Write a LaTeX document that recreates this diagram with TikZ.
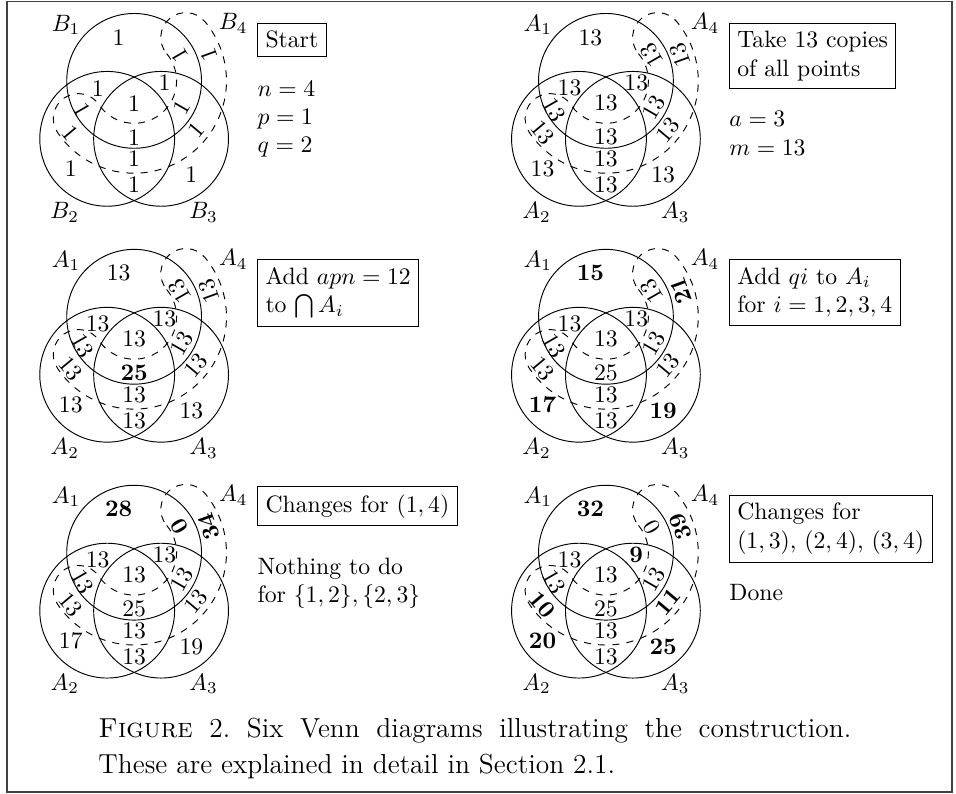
\documentclass[tikz,border=0pt]{standalone}

%% three circles and the dashed band of the fourth set
\newcommand{\vennbase}[2]{%
  \draw (0,0) circle (1);
  \draw (-0.4,-0.86) circle (1);
  \draw (0.4,-0.86) circle (1);
  \draw[dashed] (40:0.63) arc[start angle=40, end angle=-146, radius=0.63]
    arc[start angle=34, end angle=214, radius=0.37]
    arc[start angle=-146, end angle=40, radius=1.37]
    arc[start angle=40, end angle=220, radius=0.37] -- cycle;
  \node[setlab] (#1-s1) at (-1.01,0.83) {$#2_1$};
  \node[setlab] (#1-s4) at (1.47,0.85) {$#2_4$};
  \node[setlab] (#1-s2) at (-1.03,-1.95) {$#2_2$};
  \node[setlab] (#1-s3) at (1.03,-1.95) {$#2_3$};
}

%% the 15 region counts, in a fixed order of regions
\newcommand{\vennnums}[2]{%
  \foreach \val [count=\k from 0] in {#2}{%
    \pgfmathsetmacro{\nx}{{-0.23,0.68,1.11,-0.54,0.45,0,0,0,0,-0.94,0.85,-0.765,-0.94,0.71,0.92}[\k]}%
    \pgfmathsetmacro{\ny}{{0.645,0.385,0.385,-0.11,-0.03,-0.33,-0.835,-1.155,-1.545,-1.306,-1.395,-0.43,-0.77,-0.40,-0.73}[\k]}%
    \pgfmathsetmacro{\nr}{{0,120,110,0,0,0,0,0,0,0,0,-60,-50,60,50}[\k]}%
    \node[num, rotate=\nr] (#1-r\k) at (\nx,\ny) {\val};
  }%
}

\begin{document}
\begin{tikzpicture}[
    setlab/.style={inner sep=1pt},
    num/.style={inner sep=1pt},
    notebox/.style={draw, align=left, anchor=north west},
    info/.style={align=left, anchor=base west, inner sep=0pt}]
  \useasboundingbox (0,0) rectangle (14.184,-11.780);
  \draw[black!75, line width=0.6pt] (0.104,-0.02) rectangle (14.125,-11.75);

  %% --- 1: start ---
  \begin{scope}[shift={(1.99,-1.20)}]
    \vennbase{d1}{B}
    \vennnums{d1}{1,1,1,1,1,1,1,1,1,1,1,1,1,1,1}
    \node[notebox] (d1-box) at (1.825,0.86) {Start};
    %% base = last line
    \node[info] (d1-txt) at (1.825,-1.068) {$n=4$\\$p=1$\\$q=2$};
  \end{scope}

  %% --- 2: 13 copies ---
  \begin{scope}[shift={(8.99,-1.20)}]
    \vennbase{d2}{A}
    \vennnums{d2}{13,13,13,13,13,13,13,13,13,13,13,13,13,13,13}
    \node[notebox] (d2-box) at (1.825,0.86) {Take 13 copies\\of all points};
    \node[info] (d2-txt) at (1.825,-1.10) {$a=3$\\$m=13$};
  \end{scope}

  %% --- 3: add apn to the intersection ---
  \begin{scope}[shift={(1.99,-4.70)}]
    \vennbase{d3}{A}
    \vennnums{d3}{13,13,13,13,13,13,\textbf{25},13,13,13,13,13,13,13,13}
    \node[notebox] (d3-box) at (1.825,0.86) {Add $apn=12$\\to $\bigcap A_i$};
  \end{scope}

  %% --- 4: add qi to A_i ---
  \begin{scope}[shift={(8.99,-4.70)}]
    \vennbase{d4}{A}
    \vennnums{d4}{\textbf{15},13,\textbf{21},13,13,13,25,13,13,\textbf{17},\textbf{19},13,13,13,13}
    \node[notebox] (d4-box) at (1.825,0.86) {Add $qi$ to $A_i$\\for $i=1,2,3,4$};
  \end{scope}

  %% --- 5: changes for (1,4) ---
  \begin{scope}[shift={(1.99,-8.20)}]
    \vennbase{d5}{A}
    \vennnums{d5}{\textbf{28},\textbf{0},\textbf{34},13,13,13,25,13,13,17,19,13,13,13,13}
    \node[notebox] (d5-box) at (1.825,0.99) {Changes for $(1,4)$};
    \node[info] (d5-txt) at (1.825,-0.74) {Nothing to do\\for $\{1,2\},\{2,3\}$};
  \end{scope}

  %% --- 6: remaining changes ---
  \begin{scope}[shift={(8.99,-8.20)}]
    \vennbase{d6}{A}
    \vennnums{d6}{\textbf{32},0,\textbf{39},13,\textbf{9},13,25,13,13,\textbf{20},\textbf{25},13,\textbf{10},13,\textbf{11}}
    \node[notebox] (d6-box) at (1.825,0.86) {Changes for\\$(1,3)$, $(2,4)$, $(3,4)$};
    \node[info] (d6-txt) at (1.825,-0.71) {Done};
  \end{scope}

  %% caption
  \node[anchor=base west, text width=11.17cm, align=justify, inner sep=0pt,
        font=\fontsize{11.6}{15.5}\selectfont\frenchspacing] (caption) at (1.454,-10.935)
    {\textsc{Figure} 2. Six Venn diagrams illustrating the construction.
     These are explained in detail in Section 2.1.};
\end{tikzpicture}
\end{document}
